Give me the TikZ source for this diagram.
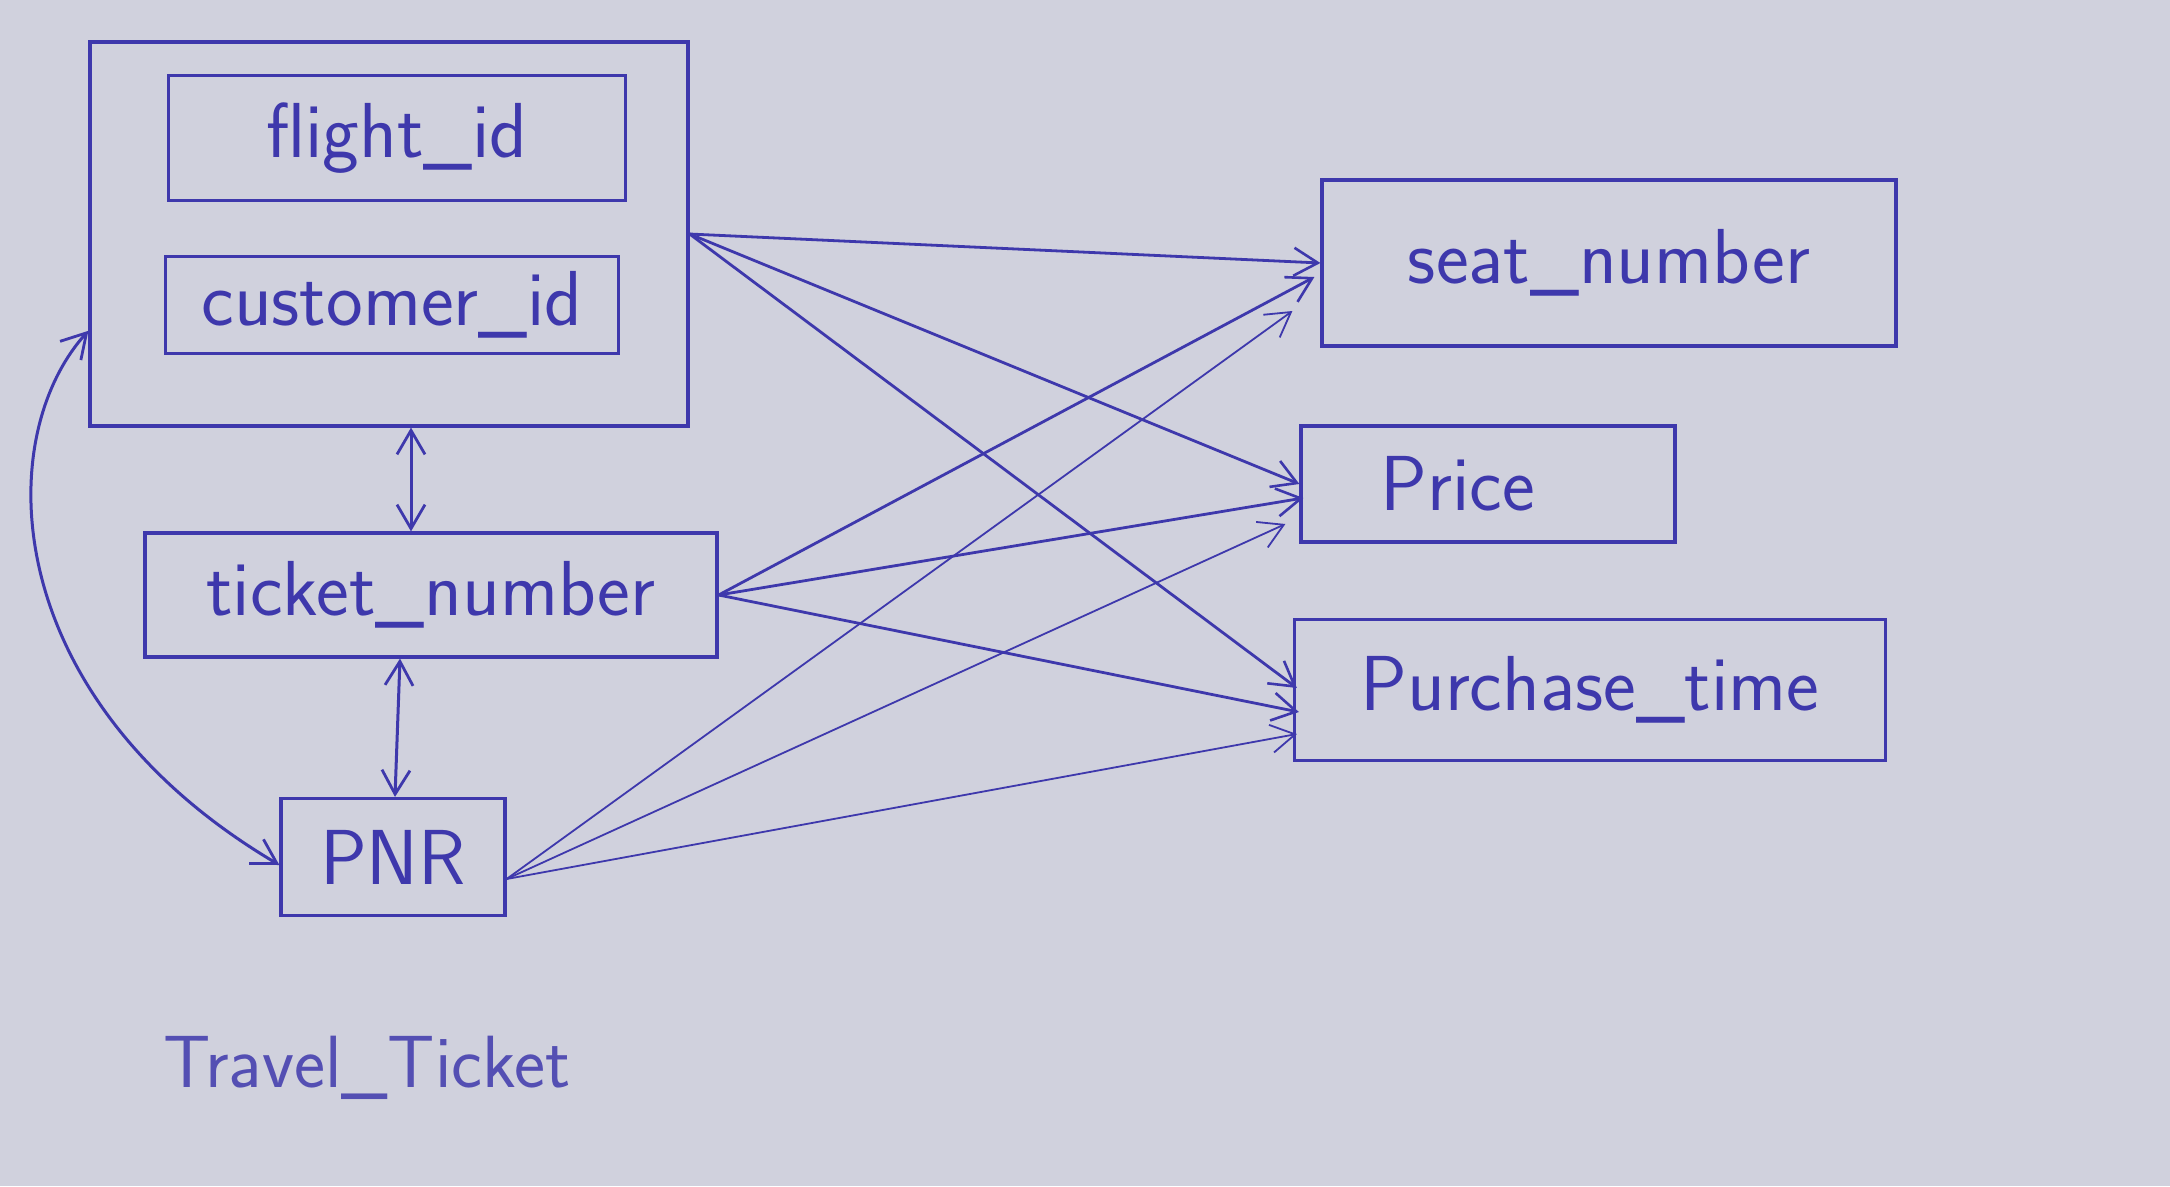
\documentclass[tikz,border=0pt]{standalone}
\usepackage{fontspec}
\usetikzlibrary{arrows.meta,calc}
\definecolor{paper}{RGB}{208,209,221}
\definecolor{pen}{RGB}{62,56,172}
\begin{document}
\begin{tikzpicture}[x=1pt,y=-1pt,
  box/.style={draw=pen,line width=3.2pt,rectangle,inner sep=0pt,text=pen,
    font=\fontsize{78}{90}\selectfont\sffamily},
  arr/.style={draw=pen,line width=2.8pt,-{Straight Barb[length=24pt,width=28pt,line width=2.6pt]}},
  thinarr/.style={draw=pen,line width=1.8pt,-{Straight Barb[length=24pt,width=28pt,line width=1.8pt]}},
  both/.style={draw=pen,line width=3pt,{Straight Barb[length=24pt,width=28pt,line width=2.8pt]}-{Straight Barb[length=24pt,width=28pt,line width=2.8pt]}}]
\fill[paper] (0,0) rectangle (2170,1186);
\useasboundingbox (0,0) rectangle (2170,1186);

% left group
\node[box,minimum width=598pt,minimum height=384pt] (key) at (389,234) {};
\node[box,minimum width=457pt,minimum height=125pt] (flight) at (397,138) {flight\_id};
\node[box,minimum width=453pt,minimum height=97pt] (cust) at (392,305) {customer\_id};
\node[box,minimum width=572pt,minimum height=124pt] (ticket) at (431,595) {ticket\_number};
\node[box,minimum width=224pt,minimum height=117pt] (pnr) at (393,857) {PNR};

% right group
\node[box,minimum width=574pt,minimum height=166pt] (seat) at (1609,263) {seat\_number};
\node[box,minimum width=374pt,minimum height=116pt] (price) at (1488,484) {\hspace*{-60pt}Price};
\node[box,minimum width=591pt,minimum height=141pt] (ptime) at (1590,690) {Purchase\_time};

\node[text=pen!85!paper,font=\fontsize{74}{90}\selectfont\sffamily] (title) at (367,1068) {Travel\_Ticket};

% vertical double arrows
\draw[both] ($(key.south)+(22,0)$) -- ($(ticket.north)+(-20,0)$);
\draw[both] ($(ticket.south)+(-31,0)$) -- ($(pnr.north)+(2,0)$);

% curved double arrow
\coordinate (cs) at ($(key.south west)!0.25!(key.north west)$);
\coordinate (ce) at ($(pnr.west)+(0,8)$);
\draw[both] (cs) .. controls (-10,440) and (0,700) .. (ce);

% from key group
\draw[arr] (key.east) -- (seat.west);
\draw[arr] (key.east) -- (price.west);
\draw[arr] (key.east) -- ($(ptime.west)+(4,-2)$);

% from ticket_number
\draw[arr] (ticket.east) -- ($(seat.west)+(-6,14)$);
\draw[arr] (ticket.east) -- ($(price.west)+(4,14)$);
\draw[arr] (ticket.east) -- ($(ptime.west)+(6,22)$);

% from PNR
\coordinate (ps) at ($(pnr.east)+(0,22)$);
\draw[thinarr] (ps) -- ($(seat.west)+(-28,48)$);
\draw[thinarr] (ps) -- ($(price.west)+(-14,40)$);
\draw[thinarr] (ps) -- ($(ptime.west)+(4,44)$);
\end{tikzpicture}
\end{document}
